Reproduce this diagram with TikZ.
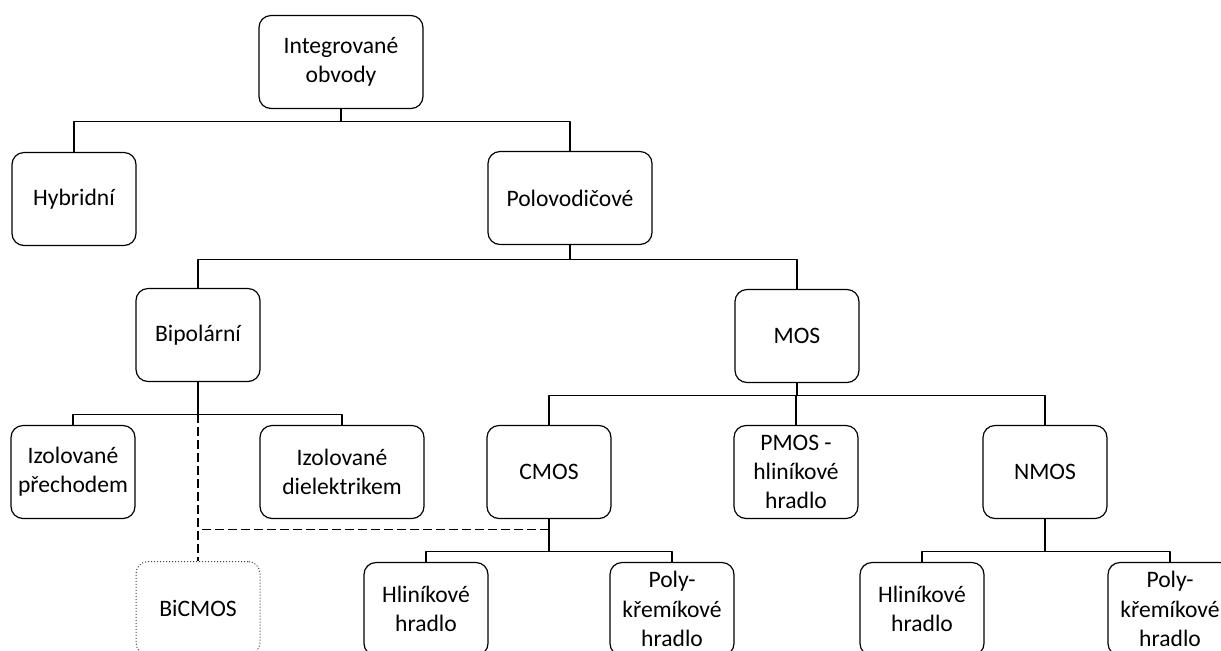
\documentclass[tikz,border=0pt]{standalone}
\usepackage{fontspec}
\setmainfont{Carlito}
\begin{document}
\begin{tikzpicture}[x=0.5pt, y=-0.5pt, line width=0.6pt, line join=round,
	font=\fontsize{11.8}{14.6}\selectfont,
	box/.style={draw, rounded corners=6pt, align=center, minimum width=62pt, minimum height=46.5pt, inner sep=1pt},
	widebox/.style={box, minimum width=82pt},
	dashline/.style={dash pattern=on 4.5pt off 2pt}]
	\useasboundingbox (0,0) rectangle (1221,650);
	\clip (0,0) rectangle (1221,650);
	% boxes
	\node[widebox] (integ) at (341,62) {Integrované\\obvody};
	\node[box] (hybrid) at (74,199) {Hybridní};
	\node[widebox] (polo) at (570,198) {Polovodičové};
	\node[box] (bip) at (198,335) {Bipolární};
	\node[box] (mos) at (797,336) {MOS};
	\node[box] (izp) at (73,472) {Izolované\\přechodem};
	\node[widebox] (izd) at (342,472) {Izolované\\dielektrikem};
	\node[box] (cmos) at (549,472) {CMOS};
	\node[box] (pmos) at (796,472) {PMOS -\\hliníkové\\hradlo};
	\node[box] (nmos) at (1045,472) {NMOS};
	\node[box, draw=black!75, line width=0.5pt, densely dotted] (bicmos) at (198,608) {BiCMOS};
	\node[box] (hlcmos) at (426,609) {Hliníkové\\hradlo};
	\node[box] (polycmos) at (672,609) {Poly-\\křemíkové\\hradlo};
	\node[box] (hlnmos) at (922,609) {Hliníkové\\hradlo};
	\node[box] (polynmos) at (1170,609) {Poly-\\křemíkové\\hradlo};
	% tree lines
	\draw (integ.south) -- ++(0,12) -| (hybrid.north);
	\draw (integ.south) -- ++(0,12) -| (polo.north);
	\draw (polo.south) -- ++(0,14) -| (bip.north);
	\draw (polo.south) -- ++(0,14) -| (mos.north);
	\draw (bip.south) -- ++(0,32) -| (izp.north);
	\draw (bip.south) -- ++(0,32) -| (izd.north);
	\draw (mos.south) -- ++(0,12) -| (cmos.north);
	\draw (mos.south) -- ++(0,12) -| (pmos.north);
	\draw (mos.south) -- ++(0,12) -| (nmos.north);
	\draw (cmos.south) -- ++(0,32) -| (hlcmos.north);
	\draw (cmos.south) -- ++(0,32) -| (polycmos.north);
	\draw (nmos.south) -- ++(0,32) -| (hlnmos.north);
	\draw (nmos.south) -- ++(0,32) -| (polynmos.north);
	% BiCMOS
	\draw[dashline] (bip.south) ++(0,32) coordinate (bipbus) -- (bicmos.north);
	\draw[dashline] (cmos.south) ++(0,10) coordinate (cmosdash) -- (cmosdash -| bicmos.north);
\end{tikzpicture}
\end{document}
